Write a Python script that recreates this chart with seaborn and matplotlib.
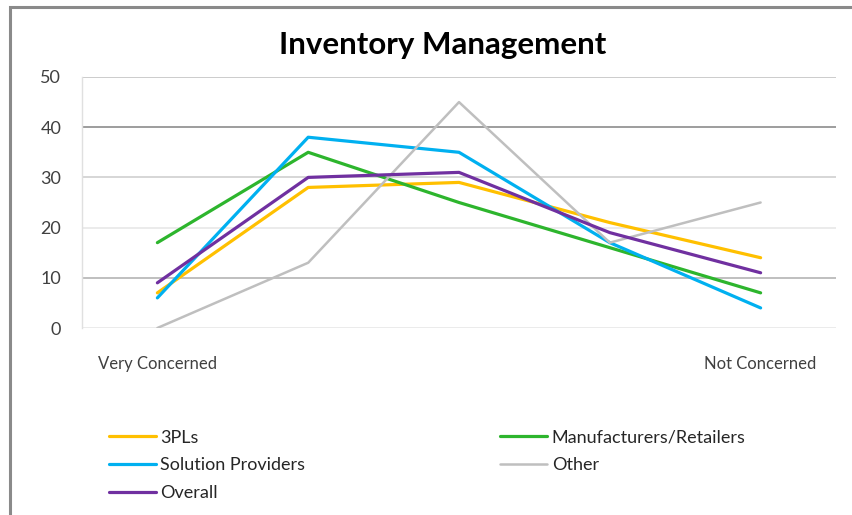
import pandas as pd
import matplotlib.pyplot as plt
import seaborn as sns
from matplotlib.patches import Rectangle

# Data
levels = [0, 1, 2, 3, 4]
level_labels = ['Very Concerned', '', '', '', 'Not Concerned']
pls_3 = [7, 28, 29, 21, 14]
manufacturers = [17, 35, 25, 16, 7]
solution_providers = [6, 38, 35, 17, 4]
other = [0, 13, 45, 17, 25]
overall = [9, 30, 31, 19, 11]

series = {
    '3PLs': pls_3,
    'Manufacturers/Retailers': manufacturers,
    'Solution Providers': solution_providers,
    'Other': other,
    'Overall': overall,
}
colors = {
    '3PLs': '#FFC000',
    'Manufacturers/Retailers': '#2DB52D',
    'Solution Providers': '#00B0F0',
    'Other': '#BFBFBF',
    'Overall': '#7030A0',
}

df = pd.DataFrame([
    {'level': x, 'value': v, 'group': name}
    for name, vals in series.items() for x, v in zip(levels, vals)
])

sns.set_style('white')
plt.rcParams['font.family'] = ['Lato', 'DejaVu Sans']

fig = plt.figure(figsize=(8.53, 5.15), dpi=100)
ax = fig.add_axes([0.0961, 0.3631, 0.884, 0.4874])

sns.lineplot(data=df, x='level', y='value', hue='group', palette=colors,
             hue_order=list(series.keys()), linewidth=2.3, ax=ax, legend=True)
for line in ax.lines:
    if line.get_color().upper() == '#BFBFBF':
        line.set_linewidth(1.8)

ax.set_xlim(-0.5, 4.5)
ax.set_ylim(0, 50)
ax.set_yticks([0, 10, 20, 30, 40, 50])
ax.set_xticks(levels)
ax.set_xticklabels(level_labels)
ax.set_xlabel('')
ax.set_ylabel('')
ax.tick_params(axis='y', length=0, pad=15, labelsize=13, labelcolor='#404040')
ax.tick_params(axis='x', length=0, pad=20, labelsize=12, labelcolor='#404040')

# gridlines (shades as they appear in the picture)
grid_shades = {0: '#e8e8e8', 10: '#b4b4b4', 20: '#e8e8e8', 30: '#d0d0d0', 40: '#8c8c8c', 50: '#c4c4c4'}
for yv, c in grid_shades.items():
    ax.axhline(yv, color=c, lw=1.2, zorder=0)

for s in ['top', 'right', 'bottom']:
    ax.spines[s].set_visible(False)
ax.spines['left'].set_color('#e0e0e0')
ax.spines['left'].set_linewidth(1)

handles, labels = ax.get_legend_handles_labels()
lookup = dict(zip(labels, handles))
order = ['3PLs', 'Solution Providers', 'Overall', 'Manufacturers/Retailers', 'Other']
ax.legend([lookup[k] for k in order], order, ncol=2, frameon=False,
          loc='upper left', bbox_to_anchor=(0.026, -0.376), fontsize=13,
          handlelength=2.6, handletextpad=0.25, columnspacing=10.8,
          labelspacing=0.65, borderaxespad=0)

fig.text(0.519, 0.912, 'Inventory Management', ha='center', va='center',
         fontsize=22.5, fontweight='bold', color='black')

fig.add_artist(Rectangle((10 / 853, -0.2), 1.2, 1 - 7 / 515 + 0.2,
                         transform=fig.transFigure, fill=False,
                         edgecolor='#8a8a8a', lw=2.2))

fig.savefig('out.png', dpi=100)
